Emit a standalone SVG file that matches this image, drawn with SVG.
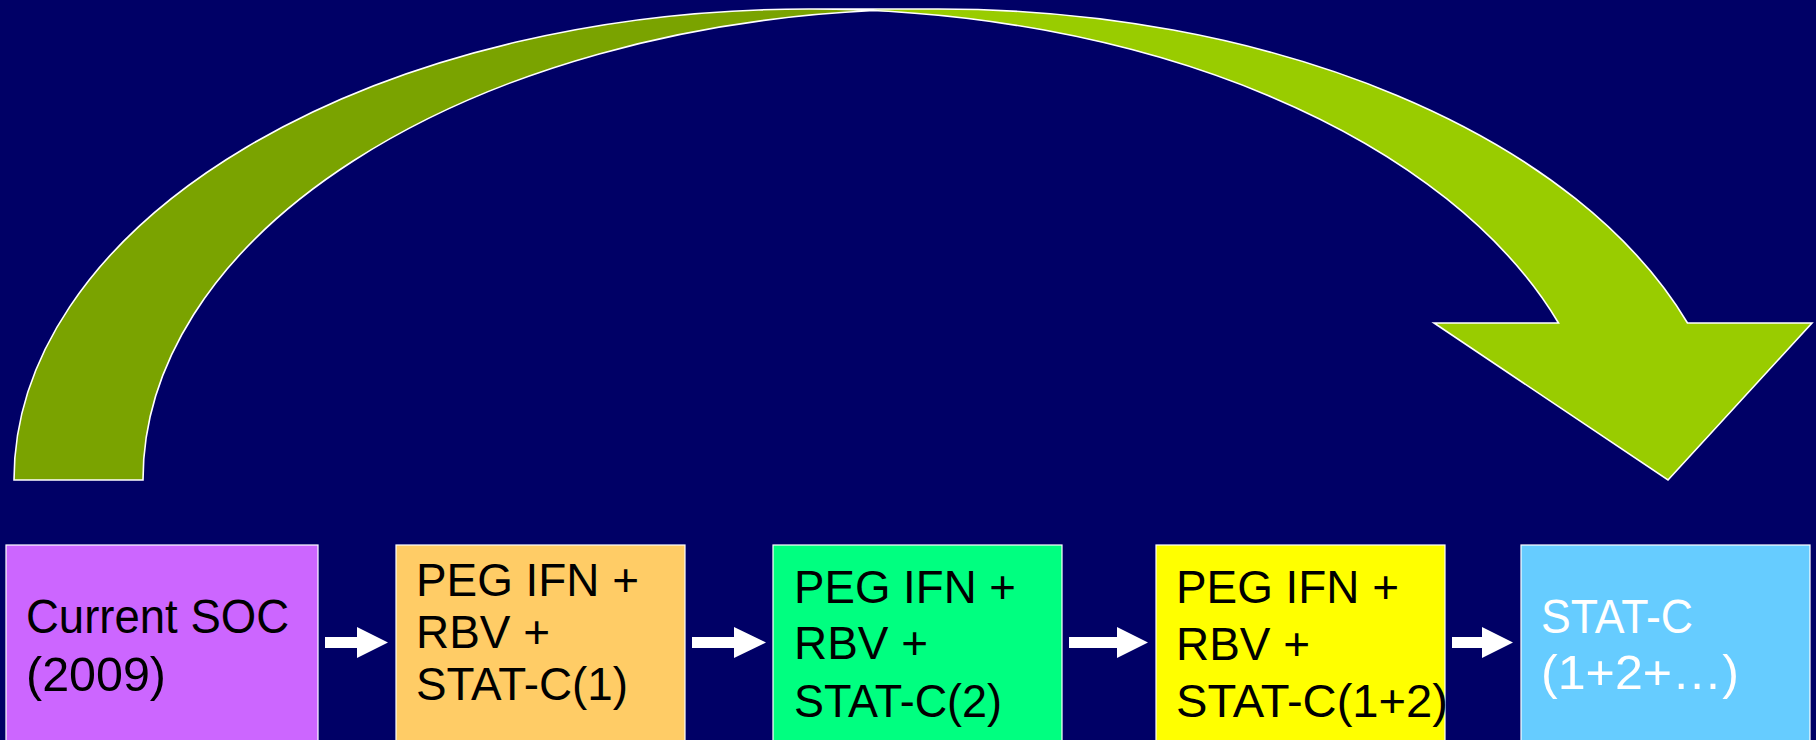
<svg xmlns="http://www.w3.org/2000/svg" width="1816" height="740" viewBox="0 0 1816 740">
<style>
.bg{fill:#000066}
.box{stroke:#ffffff;stroke-width:1.2}
.t{font-family:"Liberation Sans",Arial,sans-serif;fill:#000000}
.tw{font-family:"Liberation Sans",Arial,sans-serif;fill:#ffffff}
.arr{fill:#ffffff}
.front{fill:#99cc00}
.back{fill:#7aa300}
.outline{fill:none;stroke:#ffffff;stroke-width:1.6;stroke-linejoin:miter}
</style>
<rect class="bg" x="0" y="0" width="1816" height="740"/>
<g id="curved-arrow">
<path class="front" d="M 1668 480 L 1434 323 L 1558.5 323 A 795 471 0 0 0 809 9 L 938 9 A 795 471 0 0 1 1687.5 323 L 1812 323 Z"/>
<path class="back" d="M 873.5 10.55 A 795 471 0 0 0 143 480 L 14 480 A 795 471 0 0 1 873.5 10.55 Z"/>
<path class="outline" d="M 873.5 10.55 A 795 471 0 0 0 143 480 L 14 480 A 795 471 0 0 1 809 9 L 938 9 A 795 471 0 0 1 1687.5 323 L 1812 323 L 1668 480 L 1434 323 L 1558.5 323 A 795 471 0 0 0 809 9"/>
</g>
<g id="node-soc">
<rect class="box" x="6" y="545" width="312" height="200" fill="#cc66ff"/>
<text class="t" font-size="48"><tspan x="26" y="633" textLength="263" lengthAdjust="spacingAndGlyphs">Current SOC</tspan><tspan x="26" y="691" textLength="140" lengthAdjust="spacingAndGlyphs">(2009)</tspan></text>
</g>
<g id="node-stat1">
<rect class="box" x="396" y="545" width="289" height="200" fill="#ffcc66"/>
<text class="t" font-size="46"><tspan x="416" y="596" textLength="223" lengthAdjust="spacingAndGlyphs">PEG IFN +</tspan><tspan x="416" y="648" textLength="134" lengthAdjust="spacingAndGlyphs">RBV +</tspan><tspan x="416" y="700" textLength="212" lengthAdjust="spacingAndGlyphs">STAT-C(1)</tspan></text>
</g>
<g id="node-stat2">
<rect class="box" x="773" y="545" width="289" height="200" fill="#00ff80"/>
<text class="t" font-size="46"><tspan x="794" y="603" textLength="222" lengthAdjust="spacingAndGlyphs">PEG IFN +</tspan><tspan x="794" y="659" textLength="134" lengthAdjust="spacingAndGlyphs">RBV +</tspan><tspan x="794" y="717" textLength="208" lengthAdjust="spacingAndGlyphs">STAT-C(2)</tspan></text>
</g>
<g id="node-stat12">
<rect class="box" x="1156" y="545" width="289" height="200" fill="#ffff00"/>
<text class="t" font-size="46"><tspan x="1176" y="603" textLength="223" lengthAdjust="spacingAndGlyphs">PEG IFN +</tspan><tspan x="1176" y="660" textLength="134" lengthAdjust="spacingAndGlyphs">RBV +</tspan><tspan x="1176" y="717" textLength="272" lengthAdjust="spacingAndGlyphs">STAT-C(1+2)</tspan></text>
</g>
<g id="node-statall">
<rect class="box" x="1521" y="545" width="289" height="200" fill="#66ccff"/>
<text class="tw" font-size="48"><tspan x="1541" y="633" textLength="152" lengthAdjust="spacingAndGlyphs">STAT-C</tspan><tspan x="1541" y="689" textLength="198" lengthAdjust="spacingAndGlyphs">(1+2+…)</tspan></text>
</g>
<g id="connectors">
<polygon class="arr" points="325,637 357,637 357,627 388,642.5 357,658 357,648 325,648"/>
<polygon class="arr" points="692,637 734,637 734,627 766,642.5 734,658 734,648 692,648"/>
<polygon class="arr" points="1069,637 1117,637 1117,627 1148,642.5 1117,658 1117,648 1069,648"/>
<polygon class="arr" points="1452,637 1482,637 1482,627 1513,642.5 1482,658 1482,648 1452,648"/>
</g>
</svg>
